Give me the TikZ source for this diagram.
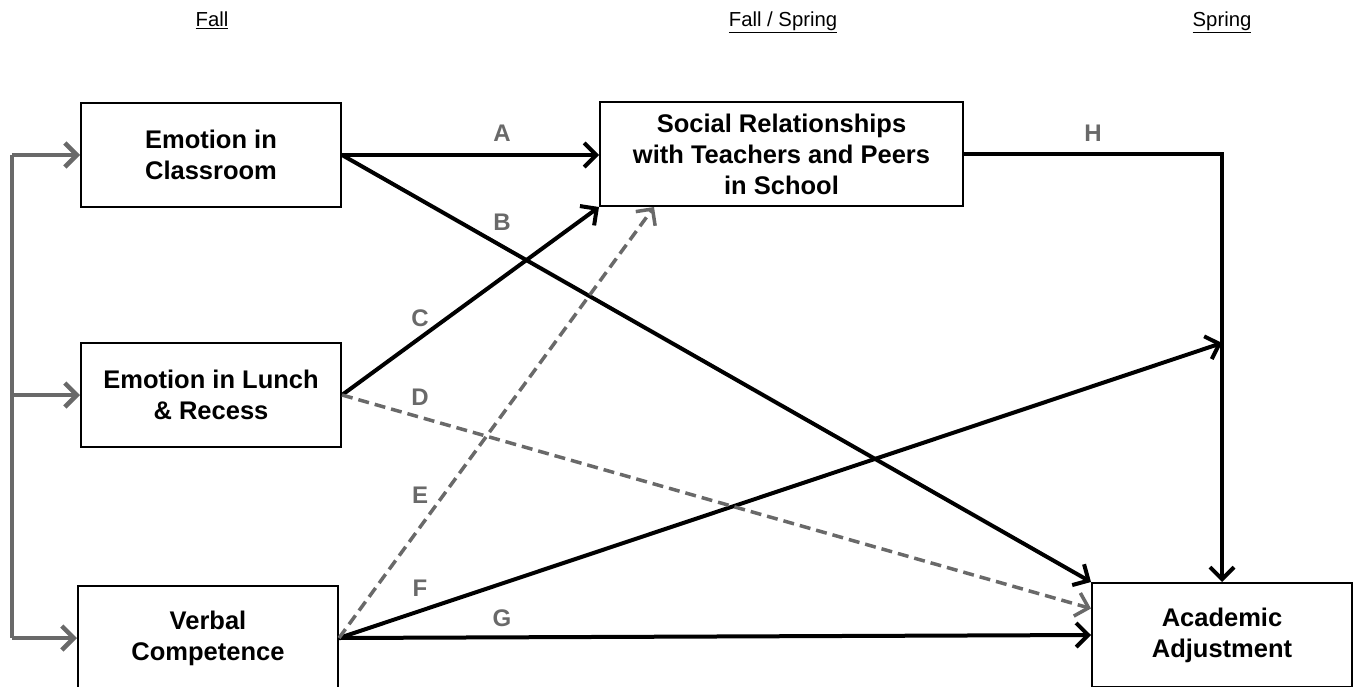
\documentclass[tikz,border=0pt]{standalone}
\usepackage{fontspec}
\setmainfont{Liberation Sans}
\usepackage{tikz}
\usetikzlibrary{arrows.meta, calc, positioning}
\definecolor{pathgray}{RGB}{105,105,105}

\begin{document}
\begin{tikzpicture}[x=1pt,y=-1pt,
	-{Straight Barb[length=12pt,width=24pt]},line width=4pt]
			\tikzstyle{var}=[draw,line width=2pt,minimum width=260pt,minimum height=104pt,align=center,inner sep=0pt,font=\bfseries\fontsize{25.5}{31}\selectfont,-]
			\tikzstyle{lbl}=[text=pathgray,font=\bfseries\fontsize{24}{28}\selectfont,inner sep=0pt]
			\tikzstyle{wave}=[font=\fontsize{20.3}{24}\selectfont,inner sep=0pt,anchor=base]
			\tikzstyle{dashpath}=[draw=pathgray,line width=3.5pt,dash pattern=on 11pt off 6pt]
			\tikzstyle{bus}=[draw=pathgray,line width=4.5pt]
			
			\useasboundingbox (0,0) rectangle (1356,687);
			
			% time points
			\node[wave] (Fall) at (212,27) {\underline{Fall}};
			\node[wave] (FallSpring) at (783,27) {\underline{Fall / Spring}};
			\node[wave] (Spring) at (1222,27) {\underline{Spring}};
			
			% boxes
			\node[var] (Class) at (211,155) {Emotion in\\Classroom};
			\node[var] (Lunch) at (211,395) {Emotion in Lunch\\\& Recess};
			\node[var] (Verbal) at (208,638) {Verbal\\Competence};
			\node[var,minimum width=363pt] (Social) at (781.5,154) {Social Relationships\\with Teachers and Peers\\in School};
			\node[var] (Acad) at (1222,635) {Academic\\Adjustment};
			
			\coordinate (bus) at (12,0);
			\coordinate (Hcorner) at (Social.east -| Acad.north);
			\coordinate (Fend) at ($(Hcorner)+(0,189)$);
			
			% correlations among fall variables
			\draw[bus,-] (Class.west -| bus) -- (Verbal.west -| bus);
			\foreach \v in {Class,Lunch,Verbal}
				\draw[bus] (\v.west -| bus) -- (\v.west);
			
			% paths
			\path (Class.east) edge (Class.east -| Social.west)
			(Class.east) edge (Acad.north west)
			(Lunch.east) edge (Social.south west)
			(Verbal.east) edge (Fend)
			(Verbal.east) edge (Acad.west);
			\draw[dashpath] (Lunch.east) -- ($(Acad.north west)!0.5!(Acad.west)$);
			\draw[dashpath] (Verbal.east) -- ([xshift=55pt]Social.south west);
			\draw (Social.east) -- (Hcorner) -- (Acad.north);
			
			% path labels
			\node[lbl] (lA) at (502,133) {A};
			\node[lbl] (lB) at (502,222) {B};
			\node[lbl] (lC) at (420,318) {C};
			\node[lbl] (lD) at (420,397) {D};
			\node[lbl] (lE) at (420,495) {E};
			\node[lbl] (lF) at (420,588) {F};
			\node[lbl] (lG) at (502,618) {G};
			\node[lbl] (lH) at (1093,133) {H};
		\end{tikzpicture}
\end{document}
